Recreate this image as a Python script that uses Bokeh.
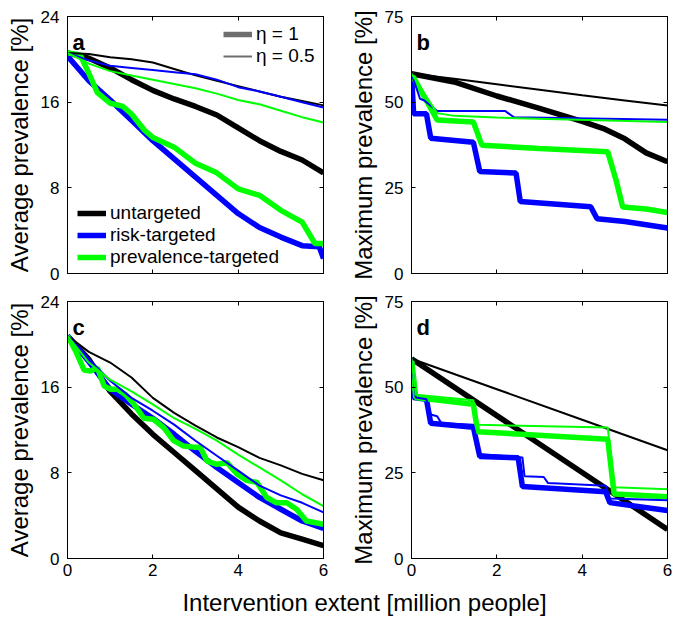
from bokeh.plotting import figure
from bokeh.models import Range1d, FixedTicker, LinearAxis, Legend, LegendItem, Label
from bokeh.layouts import column, row
from bokeh.embed import file_html
from bokeh.resources import INLINE

# ---------------- data ----------------
x_ticks = [0, 2, 4, 6]
avg_ticks = [0, 8, 16, 24]
max_ticks = [0, 25, 50, 75]
series_names = ["untargeted", "risk-targeted", "prevalence-targeted"]
eta_labels = ["η = 1", "η = 0.5"]
panel_letters = ["a", "b", "c", "d"]
avg_label = "Average prevalence [%]"
max_label = "Maximum prevalence [%]"
x_label = "Intervention extent [million people]"

grid_x = [0, 0.5, 1, 1.5, 2, 2.5, 3, 3.5, 4, 4.5, 5, 5.5, 6]

# panel a : average prevalence
a_unt1_y = [20.6, 20.1, 19.2, 18.1, 17.1, 16.3, 15.6, 14.8, 13.6, 12.4, 11.4, 10.6, 9.4]
a_unt05_y = [20.6, 20.5, 20.2, 20.0, 19.7, 19.1, 18.5, 18.0, 17.5, 17.0, 16.5, 16.1, 15.7]
a_risk1_x = [0, 0.5, 1, 1.5, 2, 2.5, 3, 3.5, 4, 4.5, 5, 5.5, 5.9, 6]
a_risk1_y = [20.3, 18.0, 16.2, 14.3, 12.4, 10.7, 9.0, 7.3, 5.6, 4.3, 3.4, 2.6, 2.5, 1.4]
a_risk05_y = [20.6, 19.9, 19.4, 19.2, 19.0, 18.8, 18.6, 18.1, 17.4, 17.0, 16.5, 16.0, 15.5]
a_prev1_x = [0, 0.3, 0.5, 0.7, 1, 1.3, 1.5, 1.8, 2, 2.5, 3, 3.5, 4, 4.5, 5, 5.5, 5.8, 6]
a_prev1_y = [20.6, 20.4, 18.7, 16.9, 15.9, 15.6, 14.9, 13.4, 12.7, 11.8, 10.3, 9.4, 7.9, 7.3, 5.9, 4.8, 2.8, 2.8]
a_prev05_y = [20.6, 19.6, 18.9, 18.5, 18.1, 17.7, 17.3, 16.8, 16.2, 15.8, 15.2, 14.6, 14.1]

# panel b : maximum prevalence
b_unt1_x = [0, 1, 2, 3, 4, 4.5, 5, 5.5, 6]
b_unt1_y = [58.3, 55.9, 51.8, 48.2, 44.4, 42.3, 39.3, 35.2, 32.6]
b_unt05_x = [0, 1, 2, 3, 4, 5, 6]
b_unt05_y = [58.3, 56.8, 55.2, 53.6, 52.0, 50.5, 49.0]
b_risk1_x = [0, 0.05, 0.35, 0.45, 1.45, 1.6, 2.45, 2.55, 4.2, 4.35, 5, 6]
b_risk1_y = [58.3, 46.6, 46.6, 39.5, 38.3, 29.8, 29.3, 21.0, 19.5, 16.0, 15.2, 13.3]
b_risk05_x = [0, 0.2, 0.3, 0.6, 2.2, 2.4, 6]
b_risk05_y = [58.3, 51.0, 50.5, 47.4, 47.4, 45.6, 44.9]
b_prev1_x = [0, 0.6, 1.45, 1.65, 3, 4.6, 4.8, 4.95, 5.5, 6]
b_prev1_y = [58.3, 44.8, 44.2, 37.4, 36.5, 35.5, 27.0, 19.4, 18.8, 17.8]
b_prev05_x = [0, 0.6, 1, 2, 6]
b_prev05_y = [58.3, 46.8, 46.0, 45.5, 44.2]

# panel c : average prevalence
c_unt1_y = [20.8, 18.6, 15.6, 13.5, 11.6, 9.9, 8.2, 6.5, 4.8, 3.5, 2.4, 1.8, 1.2]
c_unt05_y = [20.8, 19.3, 18.3, 16.9, 15.0, 13.6, 12.4, 11.3, 10.4, 9.4, 8.7, 7.9, 7.3]
c_risk1_y = [20.8, 18.4, 15.8, 14.4, 13.1, 11.6, 10.0, 8.5, 7.1, 5.7, 4.6, 3.5, 2.8]
c_risk05_y = [20.8, 18.6, 16.6, 15.0, 13.8, 12.5, 11.0, 9.6, 8.2, 6.8, 5.9, 5.2, 4.3]
c_prev1_x = [0, 0.2, 0.39, 0.54, 0.7, 0.86, 1.01, 1.17, 1.36, 1.56, 1.79, 2.02, 2.26, 2.49,
             2.72, 2.96, 3.11, 3.27, 3.5, 3.74, 3.97, 4.2, 4.44, 4.67, 4.9, 5.14, 5.37, 5.6, 6]
c_prev1_y = [20.8, 19.3, 17.6, 17.5, 17.8, 16.1, 15.8, 15.8, 15.3, 14.4, 13.1, 13.0, 12.2, 11.0,
             10.5, 10.4, 10.4, 9.1, 8.8, 8.95, 7.9, 7.3, 7.1, 5.7, 5.2, 5.2, 4.6, 3.5, 3.2]
c_prev05_y = [20.8, 18.3, 16.7, 15.6, 14.4, 13.1, 12.1, 11.0, 9.7, 8.5, 7.3, 6.0, 4.9]

# panel d : maximum prevalence
d_unt_x = [0, 2, 4, 6]
d_unt1_y = [58.3, 41.7, 25.1, 8.5]
d_unt05_y = [58.3, 49.4, 40.5, 31.6]
d_risk1_x = [0, 0.05, 0.35, 0.45, 1.45, 1.6, 2.5, 2.6, 4.55, 4.65, 6]
d_risk1_y = [58.3, 47.0, 46.5, 39.5, 38.3, 29.8, 29.4, 21.0, 19.5, 16.3, 14.0]
d_risk05_x = [0, 0.1, 0.35, 0.45, 0.6, 0.7, 1.45, 1.6, 2.6, 2.65, 3.1, 3.2, 4.55, 4.65, 6]
d_risk05_y = [58.3, 47.0, 46.5, 42.0, 41.5, 39.5, 39.0, 30.5, 29.5, 24.0, 23.8, 22.0, 21.2, 17.5, 17.0]
d_prev1_x = [0, 0.1, 1.45, 1.55, 4.6, 4.75, 6]
d_prev1_y = [58.3, 47.0, 45.0, 37.0, 34.8, 18.8, 18.0]
d_prev05_x = [0, 0.1, 1.45, 1.55, 4.6, 4.75, 6]
d_prev05_y = [58.3, 47.8, 46.2, 39.0, 38.2, 20.8, 20.2]

# ---------------- style ----------------
FONT = "Liberation Sans"
BLACK = "#000000"
BLUE = "#0000FF"
GREEN = "#00FF00"
GRAY = "#6E6E6E"
COLORS = [BLACK, BLUE, GREEN]
THICK = 5.5
THIN = 2
FRAME_W = 256
FRAME_H = 257
NAN = float("nan")


def style_axis(ax, ticks, show_labels, size="17px", standoff=8):
    ax.ticker = FixedTicker(ticks=ticks)
    ax.major_tick_in = 4
    ax.major_tick_out = 0
    ax.minor_tick_line_color = None
    ax.axis_line_color = BLACK
    ax.major_tick_line_color = BLACK
    ax.major_label_text_font = FONT
    ax.major_label_text_font_size = size
    ax.major_label_text_color = BLACK
    ax.major_label_standoff = standoff
    if not show_labels:
        ax.major_label_overrides = {t: "" for t in ticks}
        ax.major_label_standoff = 0


def make_panel(thick, thin, y_ticks, y_label, letter, show_x, borders):
    left, right, top, bottom = borders
    p = figure(frame_width=FRAME_W, frame_height=FRAME_H,
               x_range=Range1d(x_ticks[0], x_ticks[-1]),
               y_range=Range1d(y_ticks[0], y_ticks[-1]),
               output_backend="svg", toolbar_location=None,
               min_border_left=left, min_border_right=right,
               min_border_top=top, min_border_bottom=bottom)
    p.grid.visible = False
    p.outline_line_color = BLACK
    p.background_fill_color = "white"
    p.border_fill_color = "white"

    style_axis(p.xaxis[0], x_ticks, show_x, standoff=5)
    style_axis(p.yaxis[0], y_ticks, True, standoff=8)
    p.yaxis[0].axis_label = y_label
    p.yaxis[0].axis_label_text_font = FONT
    p.yaxis[0].axis_label_text_font_size = "24px"
    p.yaxis[0].axis_label_text_font_style = "normal"
    p.yaxis[0].axis_label_text_color = BLACK
    p.yaxis[0].axis_label_standoff = 5

    top_ax = LinearAxis()
    style_axis(top_ax, x_ticks, False)
    p.add_layout(top_ax, "above")
    right_ax = LinearAxis()
    style_axis(right_ax, y_ticks, False)
    p.add_layout(right_ax, "right")

    thick_r = []
    for (xs, ys), c in zip(thick, COLORS):
        thick_r.append(p.line(xs, ys, line_color=c, line_width=THICK))
    for (xs, ys), c in zip(thin, COLORS):
        p.line(xs, ys, line_color=c, line_width=THIN)

    p.add_layout(Label(x=5, y=231, x_units="screen", y_units="screen", text=letter,
                       text_font=FONT, text_font_size="22px", text_font_style="bold",
                       text_color=BLACK, text_baseline="alphabetic"))
    return p, thick_r


def style_legend(lg):
    lg.background_fill_alpha = 0
    lg.border_line_alpha = 0
    lg.padding = 0
    lg.margin = 0
    lg.spacing = 0
    lg.glyph_width = 29
    lg.glyph_height = 18
    lg.label_height = 18
    lg.label_standoff = 4
    lg.label_text_font = FONT
    lg.label_text_font_size = "19px"
    lg.label_text_color = BLACK


pa, ra = make_panel(
    [(grid_x, a_unt1_y), (a_risk1_x, a_risk1_y), (a_prev1_x, a_prev1_y)],
    [(grid_x, a_unt05_y), (grid_x, a_risk05_y), (grid_x, a_prev05_y)],
    avg_ticks, avg_label, panel_letters[0], False, (67, 14, 16, 10))
pb, _ = make_panel(
    [(b_unt1_x, b_unt1_y), (b_risk1_x, b_risk1_y), (b_prev1_x, b_prev1_y)],
    [(b_unt05_x, b_unt05_y), (b_risk05_x, b_risk05_y), (b_prev05_x, b_prev05_y)],
    max_ticks, max_label, panel_letters[1], False, (74, 6, 16, 10))
pc, _ = make_panel(
    [(grid_x, c_unt1_y), (grid_x, c_risk1_y), (c_prev1_x, c_prev1_y)],
    [(grid_x, c_unt05_y), (grid_x, c_risk05_y), (grid_x, c_prev05_y)],
    avg_ticks, avg_label, panel_letters[2], True, (67, 14, 18, 32))
pd_, _ = make_panel(
    [(d_unt_x, d_unt1_y), (d_risk1_x, d_risk1_y), (d_prev1_x, d_prev1_y)],
    [(d_unt_x, d_unt05_y), (d_risk05_x, d_risk05_y), (d_prev05_x, d_prev05_y)],
    max_ticks, max_label, panel_letters[3], True, (74, 6, 18, 32))

# legends in panel a
leg_series = Legend(items=[LegendItem(label=n, renderers=[r]) for n, r in zip(series_names, ra)],
                    location=(10, 5))
style_legend(leg_series)
pa.add_layout(leg_series)

eta_thick = pa.line([NAN], [NAN], line_color=GRAY, line_width=THICK)
eta_thin = pa.line([NAN], [NAN], line_color=GRAY, line_width=THIN)
leg_eta = Legend(items=[LegendItem(label=eta_labels[0], renderers=[eta_thick]),
                        LegendItem(label=eta_labels[1], renderers=[eta_thin])],
                 location=(156, 206))
style_legend(leg_eta)
pa.add_layout(leg_eta)

# shared x label
pl = figure(width=673, height=30, x_axis_type=None, y_axis_type=None,
            output_backend="svg", toolbar_location=None, min_border=0)
pl.outline_line_color = None
pl.add_layout(Label(x=364, y=18, x_units="screen", y_units="screen", text=x_label,
                    text_font=FONT, text_font_size="24px", text_color=BLACK,
                    text_align="center", text_baseline="middle"))

layout = column(row(pa, pb), row(pc, pd_), pl)
open("out.html", "w").write(file_html(layout, INLINE))
